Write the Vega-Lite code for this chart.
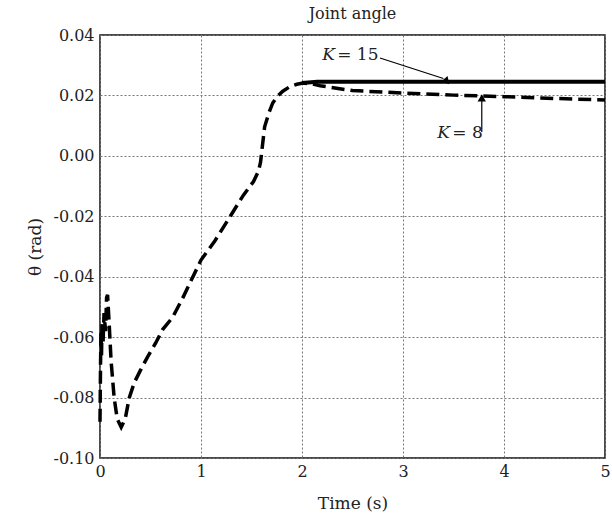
{
  "$schema": "https://vega.github.io/schema/vega-lite/v6.json",
  "width": 505,
  "height": 423,
  "autosize": "none",
  "padding": {"left": 100, "top": 35, "right": 7, "bottom": 65},
  "background": "white",
  "title": {"text": "Joint angle", "font": "DejaVu Serif", "fontSize": 16, "fontWeight": "normal", "color": "#222", "offset": 5},
  "config": {
    "view": {"stroke": "#111", "strokeWidth": 1.5},
    "axis": {
      "labelFont": "DejaVu Serif", "labelFontSize": 16, "labelColor": "#222", "labelFlush": false,
      "titleFont": "DejaVu Serif", "titleFontSize": 17, "titleFontWeight": "normal", "titleColor": "#222",
      "grid": true, "gridColor": "#777", "gridDash": [2, 2], "gridWidth": 1,
      "domain": false, "ticks": false
    }
  },
  "datasets": {
    "curves": [
      {"t": 0, "v": -0.088, "K": "K=8"},
      {"t": 0.005, "v": -0.070, "K": "K=8"},
      {"t": 0.01, "v": -0.058, "K": "K=8"},
      {"t": 0.015, "v": -0.066, "K": "K=8"},
      {"t": 0.02, "v": -0.055, "K": "K=8"},
      {"t": 0.03, "v": -0.062, "K": "K=8"},
      {"t": 0.04, "v": -0.052, "K": "K=8"},
      {"t": 0.055, "v": -0.058, "K": "K=8"},
      {"t": 0.065, "v": -0.047, "K": "K=8"},
      {"t": 0.075, "v": -0.046, "K": "K=8"},
      {"t": 0.09, "v": -0.055, "K": "K=8"},
      {"t": 0.11, "v": -0.068, "K": "K=8"},
      {"t": 0.14, "v": -0.080, "K": "K=8"},
      {"t": 0.17, "v": -0.087, "K": "K=8"},
      {"t": 0.21, "v": -0.0898, "K": "K=8"},
      {"t": 0.25, "v": -0.087, "K": "K=8"},
      {"t": 0.29, "v": -0.080, "K": "K=8"},
      {"t": 0.34, "v": -0.075, "K": "K=8"},
      {"t": 0.40, "v": -0.071, "K": "K=8"},
      {"t": 0.47, "v": -0.0666, "K": "K=8"},
      {"t": 0.55, "v": -0.062, "K": "K=8"},
      {"t": 0.62, "v": -0.0575, "K": "K=8"},
      {"t": 0.72, "v": -0.0534, "K": "K=8"},
      {"t": 0.82, "v": -0.047, "K": "K=8"},
      {"t": 0.92, "v": -0.040, "K": "K=8"},
      {"t": 1.0, "v": -0.0345, "K": "K=8"},
      {"t": 1.14, "v": -0.028, "K": "K=8"},
      {"t": 1.29, "v": -0.020, "K": "K=8"},
      {"t": 1.42, "v": -0.013, "K": "K=8"},
      {"t": 1.52, "v": -0.0085, "K": "K=8"},
      {"t": 1.57, "v": -0.005, "K": "K=8"},
      {"t": 1.59, "v": -0.002, "K": "K=8"},
      {"t": 1.60, "v": 0.001, "K": "K=8"},
      {"t": 1.63, "v": 0.0096, "K": "K=8"},
      {"t": 1.67, "v": 0.014, "K": "K=8"},
      {"t": 1.71, "v": 0.0175, "K": "K=8"},
      {"t": 1.76, "v": 0.0198, "K": "K=8"},
      {"t": 1.81, "v": 0.0214, "K": "K=8"},
      {"t": 1.88, "v": 0.0229, "K": "K=8"},
      {"t": 1.95, "v": 0.0237, "K": "K=8"},
      {"t": 2.01, "v": 0.0241, "K": "K=8"},
      {"t": 2.1, "v": 0.0238, "K": "K=8"},
      {"t": 2.18, "v": 0.0232, "K": "K=8"},
      {"t": 2.5, "v": 0.0216, "K": "K=8"},
      {"t": 3.0, "v": 0.0208, "K": "K=8"},
      {"t": 3.5, "v": 0.0201, "K": "K=8"},
      {"t": 4.0, "v": 0.0196, "K": "K=8"},
      {"t": 4.5, "v": 0.0190, "K": "K=8"},
      {"t": 5.0, "v": 0.0185, "K": "K=8"},
      {"t": 2.0, "v": 0.0241, "K": "K=15"},
      {"t": 2.15, "v": 0.0245, "K": "K=15"},
      {"t": 3.0, "v": 0.0245, "K": "K=15"},
      {"t": 4.0, "v": 0.0245, "K": "K=15"},
      {"t": 5.0, "v": 0.0245, "K": "K=15"}
    ],
    "arrows": [
      {"t": 2.772, "v": 0.0324, "t2": 3.40, "v2": 0.0256},
      {"t": 3.78, "v": 0.0079, "t2": 3.78, "v2": 0.0185}
    ],
    "heads": [
      {"t": 3.43, "v": 0.0253, "dir": 18},
      {"t": 3.78, "v": 0.0192, "dir": 0}
    ],
    "kLabels": [
      {"t": 2.2, "v": 0.0334, "k": "K", "rest": "= 15"},
      {"t": 3.34, "v": 0.0075, "k": "K", "rest": "= 8"}
    ]
  },
  "layer": [
    {
      "data": {"name": "curves"},
      "transform": [{"filter": "datum.K === 'K=15'"}],
      "mark": {"type": "line", "color": "#000", "strokeWidth": 4, "interpolate": "linear"},
      "encoding": {
        "x": {"field": "t", "type": "quantitative", "scale": {"domain": [0, 5], "nice": false}, "axis": {"values": [0, 1, 2, 3, 4, 5], "format": "d", "title": "Time (s)", "labelPadding": 5, "titlePadding": 16}},
        "y": {"field": "v", "type": "quantitative", "scale": {"domain": [-0.1, 0.04], "nice": false, "zero": false}, "axis": {"values": [-0.1, -0.08, -0.06, -0.04, -0.02, 0, 0.02, 0.04], "labelExpr": "replace(format(datum.value, '.2f'), '\u2212', '-')", "title": "\u03b8 (rad)", "labelPadding": 6, "titlePadding": 8}}
      }
    },
    {
      "data": {"name": "curves"},
      "transform": [{"filter": "datum.K === 'K=8'"}],
      "mark": {"type": "line", "color": "#000", "strokeWidth": 3.5, "strokeDash": [13, 6], "interpolate": "linear"},
      "encoding": {
        "x": {"field": "t", "type": "quantitative"},
        "y": {"field": "v", "type": "quantitative"}
      }
    },
    {
      "data": {"name": "arrows"},
      "mark": {"type": "rule", "color": "#000", "strokeWidth": 1.2},
      "encoding": {
        "x": {"field": "t", "type": "quantitative"},
        "y": {"field": "v", "type": "quantitative"},
        "x2": {"field": "t2"},
        "y2": {"field": "v2"}
      }
    },
    {
      "data": {"name": "heads"},
      "mark": {"type": "point", "shape": "triangle-up", "filled": true, "color": "#000", "size": 70, "opacity": 1},
      "encoding": {
        "x": {"field": "t", "type": "quantitative"},
        "y": {"field": "v", "type": "quantitative"},
        "angle": {"field": "dir", "type": "quantitative", "scale": null}
      }
    },
    {
      "data": {"name": "kLabels"},
      "mark": {"type": "text", "font": "DejaVu Serif", "fontSize": 17, "fontStyle": "italic", "align": "left", "baseline": "middle", "color": "#222"},
      "encoding": {
        "x": {"field": "t", "type": "quantitative"},
        "y": {"field": "v", "type": "quantitative"},
        "text": {"field": "k"}
      }
    },
    {
      "data": {"name": "kLabels"},
      "mark": {"type": "text", "font": "DejaVu Serif", "fontSize": 17, "align": "left", "baseline": "middle", "dx": 15, "color": "#222"},
      "encoding": {
        "x": {"field": "t", "type": "quantitative"},
        "y": {"field": "v", "type": "quantitative"},
        "text": {"field": "rest"}
      }
    }
  ]
}
